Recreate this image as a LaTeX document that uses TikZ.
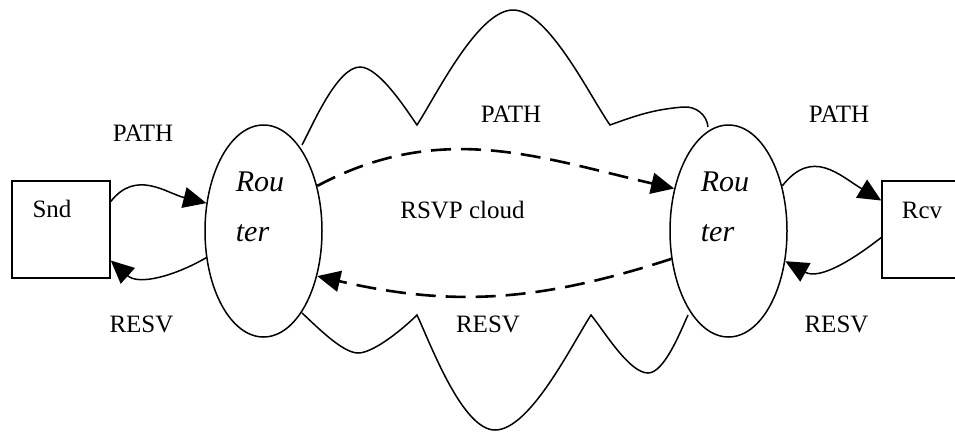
\documentclass[tikz,border=0pt]{standalone}
\usepackage{fontspec}
\setmainfont{Liberation Serif}
\usetikzlibrary{arrows.meta,shapes.geometric}

\tikzset{
    box/.style={draw, line width=1.5pt, minimum width=98pt, minimum height=97pt, inner sep=0pt},
    router/.style={draw, ellipse, line width=1.5pt, minimum width=117pt, minimum height=212pt, inner sep=0pt},
    lbl/.style={inner sep=0pt, font=\fontsize{25}{30}\selectfont},
    rtext/.style={inner sep=0pt, align=left, font=\fontsize{30}{50}\selectfont\itshape},
    msg/.style={line width=1.5pt, -{Triangle[length=23pt, width=21pt]}},
    tunnel/.style={msg, line width=2.6pt, dash pattern=on 20pt off 10pt},
    cloudline/.style={line width=1.5pt, looseness=0.6}
}

\begin{document}
\begin{tikzpicture}[x=1pt, y=-1pt]
                \useasboundingbox (0, 0) rectangle (955, 432);

                \node[box] (snd) at (61, 229.5) {};
                \node[box] (rcv) at (931, 229.5) {};
                \node[router] (rl) at (263.5, 231) {};
                \node[router] (rr) at (728.5, 231) {};

                \node[lbl] (sndl) at (52, 209) {Snd};
                \node[lbl] (rcvl) at (922, 210) {Rcv};
                \node[rtext] (rlt) at (260, 207) {Rou\\ter};
                \node[rtext] (rrt) at (725, 207) {Rou\\ter};

                \node[lbl] (path1) at (143, 133) {PATH};
                \node[lbl] (path2) at (511, 114) {PATH};
                \node[lbl] (path3) at (839, 114) {PATH};
                \node[lbl] (resv1) at (141.5, 324) {RESV};
                \node[lbl] (resv2) at (488, 324) {RESV};
                \node[lbl] (resv3) at (836.5, 324.5) {RESV};
                \node[lbl] (cloud) at (462.5, 210.5) {RSVP cloud};

                \draw[cloudline] (302, 145) to[out=62, in=180] (360, 67) to[out=0, in=125] (417, 125)
                    to[out=57, in=180] (513, 10) to[out=0, in=125] (610, 125)
                    to[out=20, in=185, looseness=1] (683, 107) to[out=5, in=95, looseness=1] (708, 127);
                \draw[cloudline] (302, 313) to[out=-42, in=180] (358, 353) to[out=0, in=-135] (417, 315)
                    to[out=-65, in=180] (495, 430) to[out=0, in=-123] (591, 315)
                    to[out=-50, in=180] (648, 373) to[out=0, in=-115] (688, 315);

                \draw[msg] ([yshift=28pt]snd.east) to[out=52, in=166, looseness=1.1] (rl.154);
                \draw[msg] (rl.205) to[out=210, in=-42] ([yshift=-31pt]snd.east);
                \draw[msg] (rr.40) to[out=52, in=149, looseness=1.25] ([yshift=29pt]rcv.west);
                \draw[msg] ([yshift=-8pt]rcv.west) to[out=218, in=-29] (rr.-28);

                \draw[tunnel] (rl.40) to[out=28, in=167] (rr.142);
                \draw[tunnel] (rr.206) to[out=198, in=-13] (rl.-40);
\end{tikzpicture}
\end{document}
